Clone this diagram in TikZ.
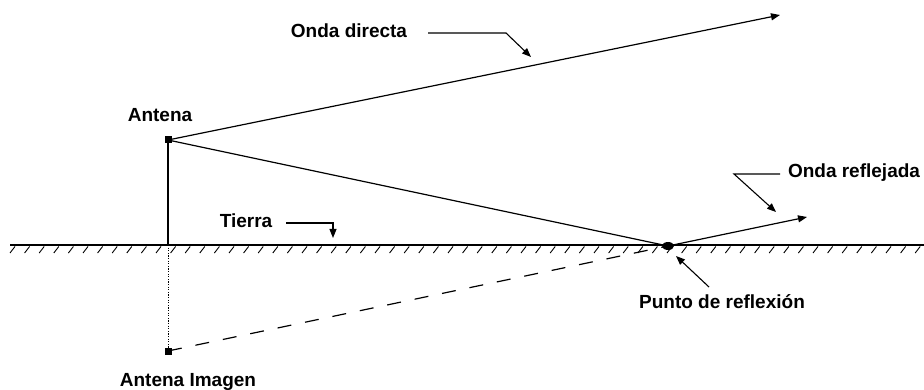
\documentclass[tikz,border=0pt]{standalone}
\usepackage{fontspec}
\setmainfont{Liberation Sans}
\usetikzlibrary{arrows.meta,shapes.geometric}
\begin{document}
\begin{tikzpicture}[x=1pt,y=-1pt,
  lbl/.style={font=\fontsize{19}{21}\selectfont\bfseries, inner sep=0pt, anchor=center},
  ray/.style={line width=1.2pt},
  lead/.style={line width=1.1pt},
  tip/.style={-{Triangle[length=9pt,width=7pt]}},
  antsq/.style={fill=black, minimum size=7pt, inner sep=0pt, draw=none, rectangle},
  hatch/.style={line width=0.9pt}]
\useasboundingbox (0,0) rectangle (924,390);
% ground
\coordinate (gl) at (10,245);
\coordinate (gr) at (924,245);
\draw[line width=1.2pt] (gl) -- (gr);
\foreach \x in {10,24.6,...,924} \draw[hatch] (\x,253) -- (\x+5,246.5);
% antennas
\node[antsq] (ant) at (168,140) {};
\node[antsq] (img) at (168,351) {};
\coordinate (base) at (168,245);
\node[fill=black, draw=none, ellipse, minimum width=12pt, minimum height=8pt, inner sep=0pt] (rp) at (668,246) {};
\coordinate (dirend) at (780,15);
\coordinate (refend) at (807,217);
% rays
\draw[ray] (ant.center) -- (base);
\draw[line width=1pt, dash pattern=on 1.3pt off 1.3pt] (base) -- (img.center);
\draw[ray, tip] (ant.center) -- (dirend);
\draw[ray] (ant.center) -- (rp.center);
\draw[ray, dash pattern=on 14pt off 14pt] (img.center) -- (rp.center);
\draw[ray, tip] (rp.center) -- (refend);
% labels
\node[lbl] (ld) at (349,31) {Onda directa};
\node[lbl] (la) at (160,115) {Antena};
\node[lbl] (lt) at (246,221) {Tierra};
\node[lbl] (li) at (188,382) {Antena Imagen};
\node[lbl] (lr) at (854,173) {Onda reflejada};
\node[lbl] (lp) at (722,302) {Punto de reflexión};
% leaders
\coordinate (d1) at (428,33);
\coordinate (d2) at (506,33);
\coordinate (d3) at (531,57);
\draw[lead, tip] (d1) -- (d2) -- (d3);
\coordinate (t1) at (286,223);
\coordinate (t2) at (333,223);
\coordinate (t3) at (333,238);
\draw[lead, tip] (t1) -- (t2) -- (t3);
\coordinate (r1) at (780,174);
\coordinate (r2) at (734,174);
\coordinate (r3) at (776,212);
\draw[lead, tip] (r1) -- (r2) -- (r3);
\coordinate (p1) at (709,287);
\coordinate (p3) at (676,256);
\draw[lead, tip] (p1) -- (p3);
\end{tikzpicture}
\end{document}
